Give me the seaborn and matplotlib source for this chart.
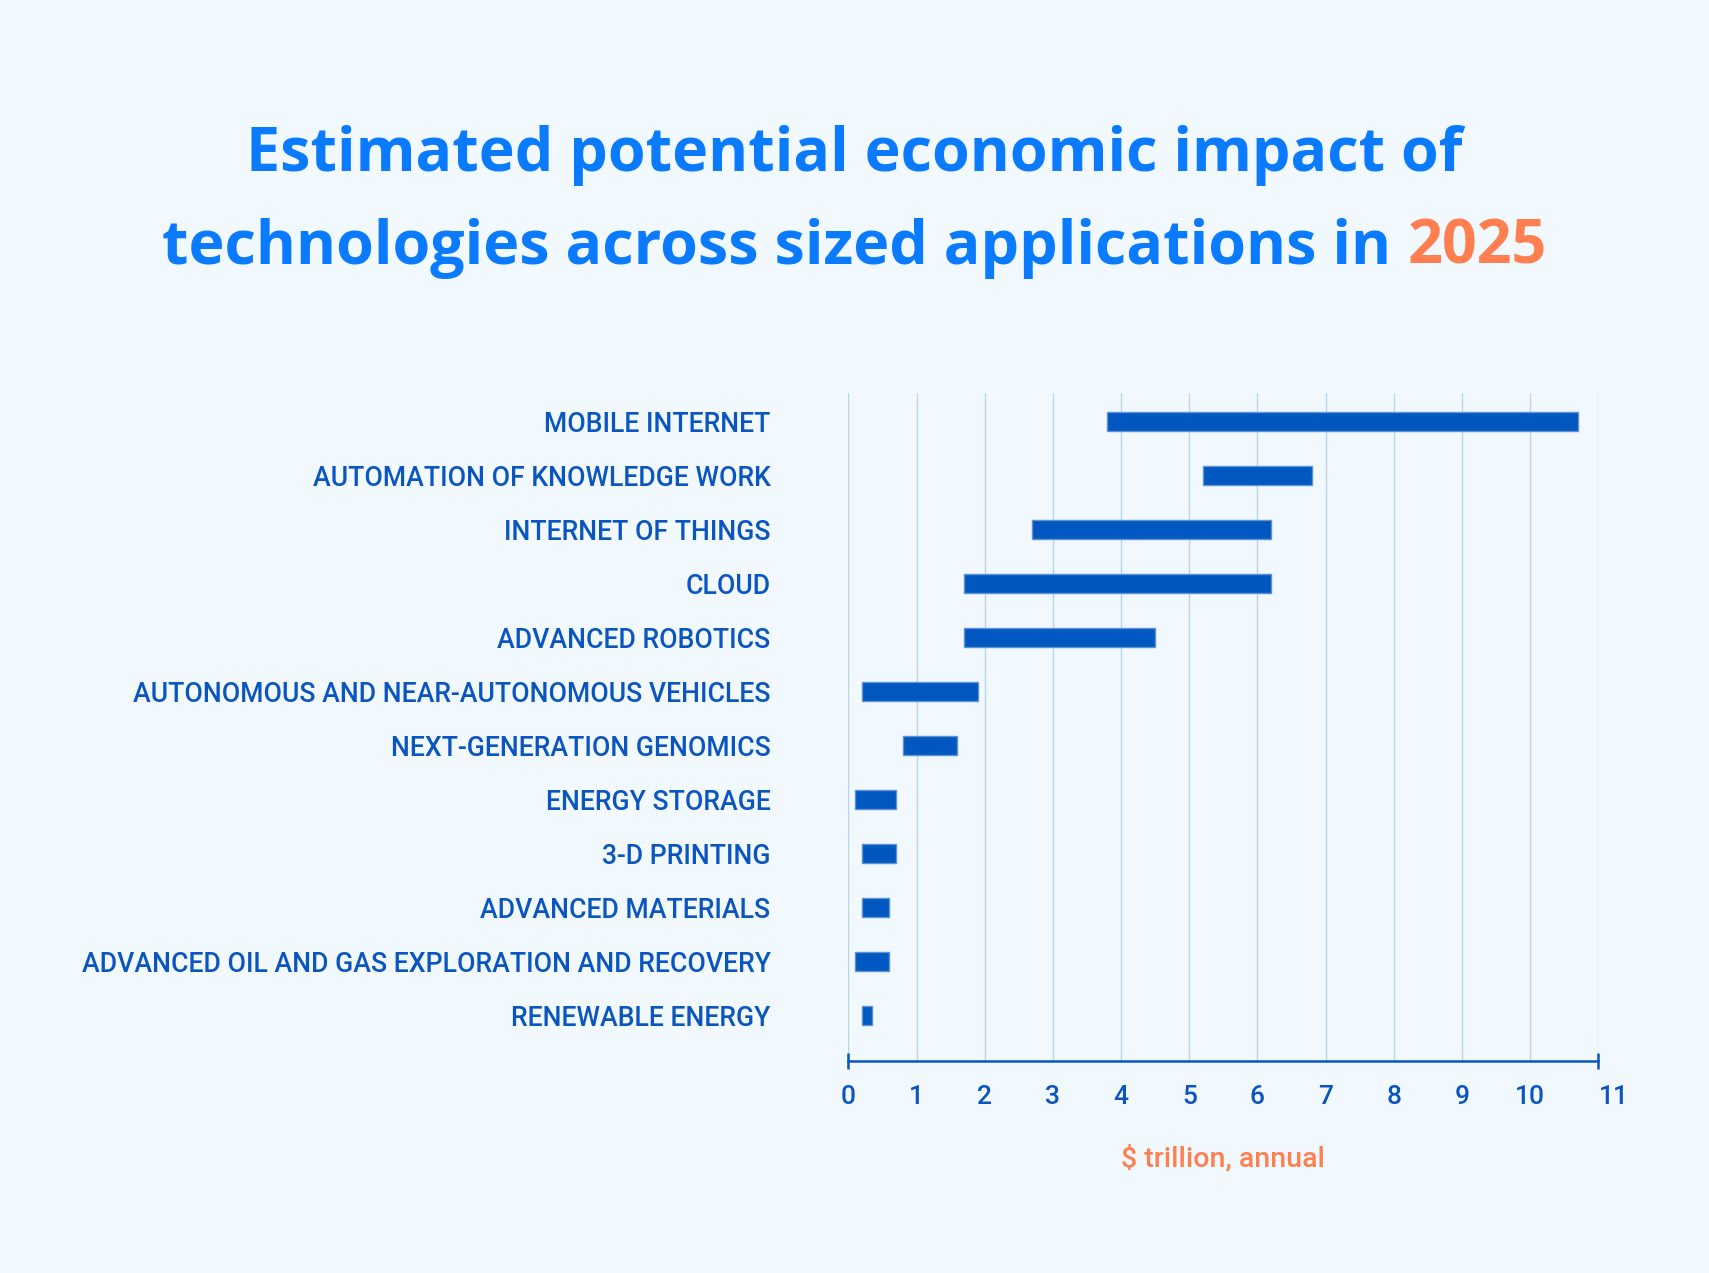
import matplotlib
matplotlib.use("Agg")
import matplotlib.pyplot as plt
import numpy as np
import pandas as pd
import seaborn as sns

# === Data ($ trillion per year) ===
technologies = [
    "MOBILE INTERNET",
    "AUTOMATION OF KNOWLEDGE WORK",
    "INTERNET OF THINGS",
    "CLOUD",
    "ADVANCED ROBOTICS",
    "AUTONOMOUS AND NEAR-AUTONOMOUS VEHICLES",
    "NEXT-GENERATION GENOMICS",
    "ENERGY STORAGE",
    "3-D PRINTING",
    "ADVANCED MATERIALS",
    "ADVANCED OIL AND GAS EXPLORATION AND RECOVERY",
    "RENEWABLE ENERGY",
]
low = [3.8, 5.2, 2.7, 1.7, 1.7, 0.2, 0.8, 0.1, 0.2, 0.2, 0.1, 0.2]
high = [10.7, 6.8, 6.2, 6.2, 4.5, 1.9, 1.6, 0.7, 0.7, 0.6, 0.6, 0.35]
x_ticks = list(range(0, 12))

df = pd.DataFrame({"tech": technologies, "low": low, "high": high})
df["span"] = df["high"] - df["low"]

BG = "#f2f9fe"
BLUE_TITLE = "#0a7aff"
BLUE = "#0a55c0"
BAR = "#0057bf"
ORANGE = "#ff7f50"
GRID = "#b5d6ec"

sns.set_theme(style="white")
plt.rcParams["font.family"] = ["Roboto", "DejaVu Sans"]

fig = plt.figure(figsize=(17.09, 12.73), dpi=100, facecolor=BG)
ax = fig.add_axes([848.4 / 1709, 0.1665, 750 / 1709, 0.5248])
ax.set_facecolor(BG)

sns.barplot(
    data=df, y="tech", x="span", order=technologies, orient="h",
    left=df["low"].values, color=BAR, saturation=1, width=0.35,
    errorbar=None, edgecolor="#5d92d6", linewidth=1, ax=ax, zorder=3,
)

ax.set_xlim(0, 11)
ax.set_ylim(11.84, -0.53)
ax.set_xticks(x_ticks)
ax.set_xticklabels([str(t) for t in x_ticks])
ax.grid(True, axis="x", color=GRID, linewidth=1, zorder=0)
ax.grid(False, axis="y")
for s in ["top", "right", "left"]:
    ax.spines[s].set_visible(False)
ax.spines["bottom"].set_color(BLUE)
ax.spines["bottom"].set_linewidth(1.8)
ax.set_xlabel("")
ax.set_ylabel("")

ax.tick_params(axis="x", length=0, pad=17, labelsize=19, labelcolor=BLUE)
ax.tick_params(axis="y", length=0, pad=56, labelsize=19.2, labelcolor=BLUE)
for lab in ax.get_xticklabels() + ax.get_yticklabels():
    lab.set_fontweight("medium")
# the last label sits just right of its gridline in the original
ax.get_xticklabels()[-1].set_horizontalalignment("left")

# end caps on the axis line
ax.plot([0, 11], [0, 0], transform=ax.get_xaxis_transform(), color=BLUE,
        marker="|", markersize=12, markeredgewidth=1.8, linestyle="none",
        clip_on=False, zorder=5)

fig.text(1223 / 1709, 1 - 1158 / 1273, "$ trillion, annual", color=ORANGE,
         fontsize=20.5, fontweight="medium", ha="center", va="center")

# === Title ===
renderer = fig.canvas.get_renderer()
title_family = ["Open Sans", "DejaVu Sans"]
probe = fig.text(0, 0, "Estimated potential economic impact of", fontsize=40,
                 fontweight="bold", family=title_family)
title_size = 40 * 1216 / probe.get_window_extent(renderer).width
probe.remove()

title_kw = dict(fontsize=title_size, fontweight="bold", family=title_family,
                va="center")
fig.text(0.5, 1 - 155.5 / 1273, "Estimated potential economic impact of",
         color=BLUE_TITLE, ha="center", **title_kw)

t1 = fig.text(0, 1 - 248.5 / 1273, "technologies across sized applications in",
              color=BLUE_TITLE, ha="left", **title_kw)
t2 = fig.text(0, 1 - 248.5 / 1273, "2025", color=ORANGE, ha="left", **title_kw)
w1 = t1.get_window_extent(renderer).width
w2 = t2.get_window_extent(renderer).width
gap = 0.27 * title_size * 100 / 72
total = w1 + gap + w2
x0 = (1709 - total) / 2
t1.set_x(x0 / 1709)
t2.set_x((x0 + w1 + gap) / 1709)

fig.savefig("out.png", dpi=100, facecolor=BG)
